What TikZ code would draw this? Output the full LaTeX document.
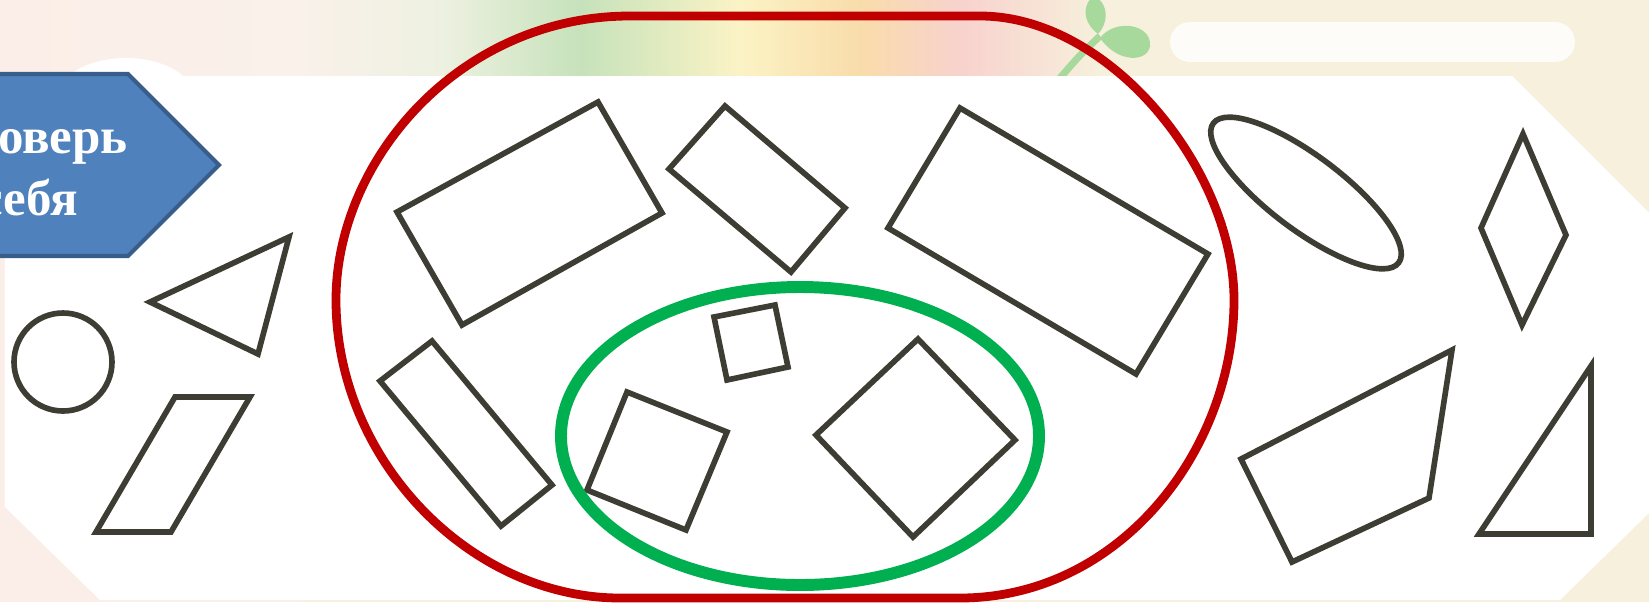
\documentclass[tikz,border=0pt]{standalone}
\usepackage{fontspec}
\setmainfont{Liberation Serif}
\definecolor{redring}{HTML}{C00000}
\definecolor{greenring}{HTML}{00B050}
\definecolor{ink}{HTML}{3D3D33}
\definecolor{bluebox}{HTML}{4F81BD}
\definecolor{blueedge}{HTML}{385D8A}
\definecolor{bgpink}{HTML}{FBEEE8}
\definecolor{bgpale}{HTML}{F9F1EA}
\definecolor{bgfade}{HTML}{EEF1E1}
\definecolor{bggreen}{HTML}{C6E2BB}
\definecolor{bgyellow}{HTML}{FBF3C5}
\definecolor{bgorange}{HTML}{F9DCAB}
\definecolor{bgrose}{HTML}{F8D2CD}
\definecolor{bgcream}{HTML}{F6F0DC}
\definecolor{leafgreen}{HTML}{A8D99C}
\begin{document}
\begin{tikzpicture}[x=0.1mm, y=-0.1mm,
    outline/.style={draw=ink, line width=1.6pt},
    glow/.style={fill=white!80!bgcream}]
    \useasboundingbox (0,0) rectangle (1649,602);
    \clip (0,0) rectangle (1649,602);

    % Background
    \fill[bgcream] (0,0) rectangle (1649,602);
    \fill[bgpink] (0,0) rectangle (300,602);
    \shade[left color=bgpink, right color=bgpale] (0,0) rectangle (300,80);
    \shade[left color=bgpale, right color=bgfade] (300,0) rectangle (440,80);
    \shade[left color=bgfade, right color=bggreen] (440,0) rectangle (580,80);
    \shade[left color=bggreen, right color=bgyellow] (580,0) rectangle (740,80);
    \shade[left color=bgyellow, right color=bgorange] (740,0) rectangle (860,80);
    \shade[left color=bgorange, right color=bgrose] (860,0) rectangle (960,80);
    \shade[left color=bgrose, right color=bgcream] (960,0) rectangle (1100,80);
    \fill[glow] (1190,22) rectangle (1555,62);
    \fill[glow] (1190,42) circle[radius=20];
    \fill[glow] (1555,42) circle[radius=20];

    % Sprout
    \draw[leafgreen, line width=2pt] (1060,78) .. controls (1080,55) .. (1100,36);
    \fill[leafgreen] (1100,38) .. controls (1115,18) and (1152,24) .. (1150,46)
        .. controls (1148,62) and (1118,64) .. (1100,38);
    \fill[leafgreen] (1098,34) .. controls (1080,20) and (1084,2) .. (1094,-4)
        .. controls (1110,4) and (1108,24) .. (1098,34);

    % White sheet
    \fill[white] (5,76) -- (5,507) -- (100,600) -- (1560,600) -- (1649,513)
        -- (1649,213) -- (1512,76) -- cycle;
    \fill[white] (126,100) ellipse[x radius=70, y radius=42];

    % Banner
    \fill[bluebox, draw=blueedge, line width=1.2pt]
        (-10,74) -- (128,74) -- (219,165) -- (128,256) -- (-10,256) -- cycle;
    \node[white, font=\fontsize{14.5}{17}\selectfont\bfseries, anchor=base]
        (line1) at (29,153) {Проверь};
    \node[white, font=\fontsize{14.5}{17}\selectfont\bfseries, anchor=base]
        (line2) at (29,215) {себя};

    % Left group
    \draw[outline] (63,362) circle[radius=49];
    \draw[outline] (150,302) -- (289,237) -- (258,354) -- cycle;
    \draw[outline] (175,397) -- (250,397) -- (171,532) -- (96,532) -- cycle;

    % Red group
    \draw[outline] (397,212) -- (598,102) -- (662,213) -- (462,325) -- cycle;
    \draw[outline] (669,169) -- (725,106) -- (845,208) -- (791,272) -- cycle;
    \draw[outline] (888,228) -- (960,108) -- (1208,254) -- (1136,374) -- cycle;
    \draw[outline] (380,381) -- (432,341) -- (552,485) -- (501,526) -- cycle;

    % Green group
    \draw[outline] (714,317) -- (775,305) -- (788,367) -- (727,380) -- cycle;
    \draw[outline] (627,392) -- (727,432) -- (686,530) -- (587,490) -- cycle;
    \draw[outline] (918,339) -- (1015,440) -- (913,537) -- (816,435) -- cycle;

    % Right group
    \draw[outline, rotate around={-37:(1306,193)}]
        (1306,193) ellipse[x radius=116, y radius=37];
    \draw[outline] (1523,134) -- (1566,235) -- (1522,325) -- (1481,228) -- cycle;
    \draw[outline] (1452,350) -- (1241,459) -- (1292,562) -- (1429,498) -- cycle;
    \draw[outline] (1591,366) -- (1591,534) -- (1479,534) -- cycle;

    % Rings
    \draw[greenring, line width=3.4pt] (800,436) ellipse[x radius=239, y radius=149];
    \draw[redring, line width=2.5pt] (630,16) -- (980,16)
        .. controls (1110,16) and (1234,170) .. (1234,300)
        .. controls (1234,450) and (1120,598) .. (960,598) -- (620,598)
        .. controls (470,598) and (336,460) .. (336,300)
        .. controls (336,160) and (460,16) .. cycle;
\end{tikzpicture}
\end{document}
